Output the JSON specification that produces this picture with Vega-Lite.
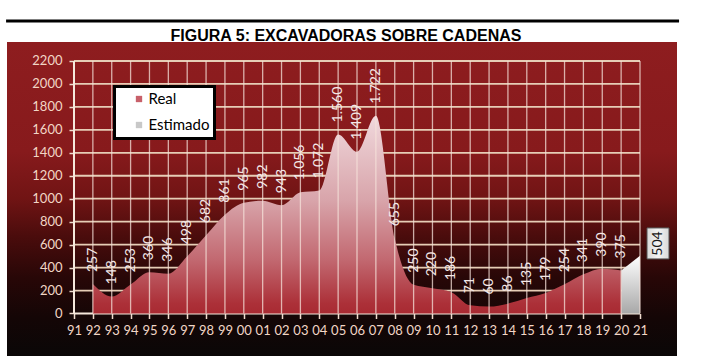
{
  "$schema": "https://vega.github.io/schema/vega-lite/v6.json",
  "width": 670,
  "height": 314,
  "autosize": {"type": "none"},
  "padding": {"left": 7, "top": 42, "right": 24, "bottom": 4},
  "background": "#ffffff",
  "view": {
    "stroke": null,
    "fill": {
      "gradient": "linear", "x1": 0, "y1": 0, "x2": 0, "y2": 1,
      "stops": [
        {"offset": 0, "color": "#8e1d1f"},
        {"offset": 0.35, "color": "#871a1c"},
        {"offset": 0.5, "color": "#701414"},
        {"offset": 0.62, "color": "#4a0c0c"},
        {"offset": 0.75, "color": "#280707"},
        {"offset": 0.88, "color": "#140606"},
        {"offset": 1, "color": "#0a0707"}
      ]
    }
  },
  "title": {
    "text": "FIGURA 5: EXCAVADORAS SOBRE CADENAS",
    "frame": "group",
    "anchor": "middle",
    "orient": "top",
    "baseline": "alphabetic",
    "offset": 3,
    "dy": 41,
    "dx": 4,
    "font": "Liberation Sans Narrow, Liberation Sans",
    "fontSize": 16,
    "fontWeight": "bold",
    "color": "#000000"
  },
  "datasets": {
    "series": [
      {"year": 1992, "v": 257, "serie": "Real"},
      {"year": 1993, "v": 148, "serie": "Real"},
      {"year": 1994, "v": 253, "serie": "Real"},
      {"year": 1995, "v": 360, "serie": "Real"},
      {"year": 1996, "v": 346, "serie": "Real"},
      {"year": 1997, "v": 498, "serie": "Real"},
      {"year": 1998, "v": 682, "serie": "Real"},
      {"year": 1999, "v": 861, "serie": "Real"},
      {"year": 2000, "v": 965, "serie": "Real"},
      {"year": 2001, "v": 982, "serie": "Real"},
      {"year": 2002, "v": 943, "serie": "Real"},
      {"year": 2003, "v": 1056, "serie": "Real"},
      {"year": 2004, "v": 1072, "serie": "Real"},
      {"year": 2005, "v": 1560, "serie": "Real"},
      {"year": 2006, "v": 1409, "serie": "Real"},
      {"year": 2007, "v": 1722, "serie": "Real"},
      {"year": 2008, "v": 655, "serie": "Real"},
      {"year": 2009, "v": 250, "serie": "Real"},
      {"year": 2010, "v": 220, "serie": "Real"},
      {"year": 2011, "v": 186, "serie": "Real"},
      {"year": 2012, "v": 71, "serie": "Real"},
      {"year": 2013, "v": 60, "serie": "Real"},
      {"year": 2014, "v": 86, "serie": "Real"},
      {"year": 2015, "v": 135, "serie": "Real"},
      {"year": 2016, "v": 179, "serie": "Real"},
      {"year": 2017, "v": 254, "serie": "Real"},
      {"year": 2018, "v": 341, "serie": "Real"},
      {"year": 2019, "v": 390, "serie": "Real"},
      {"year": 2020, "v": 375, "serie": "Real"},
      {"year": 2020, "v": 375, "serie": "Estimado"},
      {"year": 2021, "v": 504, "serie": "Estimado"}
    ],
    "levels": [
      {"level": 0}, {"level": 200}, {"level": 400}, {"level": 600}, {"level": 800},
      {"level": 1000}, {"level": 1200}, {"level": 1400}, {"level": 1600},
      {"level": 1800}, {"level": 2000}, {"level": 2200}
    ]
  },
  "layer": [
    {
      "data": {"name": "levels"},
      "mark": {"type": "rule"},
      "encoding": {
        "x": {"datum": 1991, "type": "quantitative",
              "scale": {"domain": [1987.449, 2022.961], "nice": false, "zero": false},
              "axis": {
                "title": null,
                "values": [1991,1992,1993,1994,1995,1996,1997,1998,1999,2000,2001,2002,2003,2004,2005,2006,2007,2008,2009,2010,2011,2012,2013,2014,2015,2016,2017,2018,2019,2020,2021],
                "tickCount": 60,
                "labelExpr": "substring(toString(datum.value), 2)",
                "offset": -42.5,
                "domain": false, "grid": false,
                "ticks": true, "tickSize": 5, "tickWidth": 1.5, "tickColor": "#f0dccf",
                "labelColor": "#f2d6c6", "labelFont": "Lato", "labelFontSize": 13,
                "labelPadding": 6, "labelFlush": false, "labelOverlap": false
              }},
        "x2": {"datum": 2021},
        "y": {"field": "level", "type": "quantitative",
              "scale": {"domain": [-370.3, 2365.5], "nice": false, "zero": false},
              "axis": {
                "title": null,
                "values": [0,200,400,600,800,1000,1200,1400,1600,1800,2000,2200],
                "tickCount": 30,
                "format": "d",
                "offset": -67,
                "domain": false, "grid": false,
                "ticks": true, "tickSize": 5, "tickWidth": 1.5, "tickColor": "#f0dccf",
                "labelColor": "#f2d6c6", "labelFont": "Lato", "labelFontSize": 13,
                "labelPadding": 7, "labelOverlap": false
              }},
        "color": {"condition": {"test": "datum.level == 0", "value": "#f6e8dc"}, "value": "#e6cdb6"},
        "strokeWidth": {"condition": {"test": "datum.level == 0", "value": 2}, "value": 1.8}
      }
    },
    {
      "data": {"name": "series"},
      "transform": [{"filter": "datum.serie == 'Real'"}],
      "mark": {
        "type": "area", "interpolate": "monotone",
        "fill": {
          "gradient": "linear", "x1": 0, "y1": 0, "x2": 0, "y2": 1,
          "stops": [
            {"offset": 0, "color": "#f0d8dc"},
            {"offset": 0.43, "color": "#d8a4aa"},
            {"offset": 0.73, "color": "#c26870"},
            {"offset": 0.95, "color": "#ac3038"},
            {"offset": 1, "color": "#a82a32"}
          ]
        }
      },
      "encoding": {
        "x": {"field": "year", "type": "quantitative"},
        "y": {"field": "v", "type": "quantitative"},
        "y2": {"datum": 0}
      }
    },
    {
      "data": {"name": "series"},
      "transform": [{"filter": "datum.serie == 'Estimado'"}],
      "mark": {
        "type": "area",
        "fill": {
          "gradient": "linear", "x1": 0, "y1": 0, "x2": 0, "y2": 1,
          "stops": [
            {"offset": 0, "color": "#ffffff"},
            {"offset": 1, "color": "#a8a8a8"}
          ]
        }
      },
      "encoding": {
        "x": {"field": "year", "type": "quantitative"},
        "y": {"field": "v", "type": "quantitative"},
        "y2": {"datum": 0}
      }
    },
    {
      "data": {"name": "series"},
      "transform": [{"filter": "datum.serie == 'Real' || datum.year == 2021"}],
      "mark": {"type": "rule", "color": "#f5e2da", "opacity": 0.75, "strokeWidth": 1.3},
      "encoding": {
        "x": {"field": "year", "type": "quantitative"},
        "y": {"datum": 0},
        "y2": {"datum": 2200}
      }
    },
    {
      "data": {"name": "levels"},
      "transform": [{"filter": "datum.level == 0"}],
      "mark": {"type": "rule", "color": "#f6e8dc", "strokeWidth": 2},
      "encoding": {
        "x": {"datum": 1991},
        "y": {"datum": 0},
        "y2": {"datum": 2200}
      }
    },
    {
      "data": {"name": "levels"},
      "transform": [{"filter": "datum.level == 0"}],
      "mark": {"type": "rule", "color": "#000000", "strokeWidth": 3},
      "encoding": {
        "x": {"datum": 1987.4},
        "x2": {"datum": 2023.07},
        "y": {"datum": 2548.5}
      }
    },
    {
      "data": {"name": "series"},
      "mark": {"type": "square", "opacity": 0},
      "encoding": {
        "x": {"field": "year", "type": "quantitative"},
        "y": {"field": "v", "type": "quantitative"},
        "fill": {
          "field": "serie", "type": "nominal",
          "scale": {"domain": ["Real", "Estimado"], "range": ["#c8606a", "#c8c8c8"]},
          "legend": {
            "title": null,
            "orient": "none",
            "legendX": 107.5,
            "legendY": 44.5,
            "fillColor": "#ffffff",
            "strokeColor": "#000000",
            "padding": 5,
            "symbolOffset": 12,
            "labelOffset": 2,
            "rowPadding": 10,
            "symbolSize": 40,
            "symbolType": "square",
            "symbolOpacity": 1,
            "symbolStrokeWidth": 0,
            "labelFont": "Lato",
            "labelFontSize": 15,
            "labelColor": "#000000",
            "encode": {
              "labels": {"update": {"text": {"signal": "datum.label + '\u00a0\u00a0\u00a0\u00a0\u00a0\u00a0\u00a0\u00a0'"}}},
              "legend": {"update": {"strokeWidth": {"value": 3}, "stroke": {"value": "#000000"}}}
            }
          }
        }
      }
    },
    {
      "data": {"name": "series"},
      "transform": [{"filter": "datum.serie == 'Real'"}],
      "mark": {"type": "text", "angle": -90, "align": "left", "baseline": "middle", "dx": 12,
               "font": "Lato", "fontSize": 14, "color": "#f4e8e8"},
      "encoding": {
        "x": {"field": "year", "type": "quantitative"},
        "y": {"field": "v", "type": "quantitative"},
        "text": {"field": "v", "type": "quantitative", "format": ",d"}
      }
    },
    {
      "data": {"name": "series"},
      "transform": [{"filter": "datum.serie == 'Estimado' && datum.year == 2021"}],
      "mark": {
        "type": "rect", "xOffset": 7, "x2Offset": 29, "yOffset": -27.7, "y2Offset": 3.3,
        "stroke": "#555555", "strokeWidth": 1,
        "fill": {
          "gradient": "linear", "x1": 0, "y1": 0, "x2": 1, "y2": 0,
          "stops": [
            {"offset": 0, "color": "#d8d8d8"},
            {"offset": 0.5, "color": "#f4f4f4"},
            {"offset": 1, "color": "#d8d8d8"}
          ]
        }
      },
      "encoding": {
        "x": {"field": "year", "type": "quantitative"},
        "x2": {"field": "year"},
        "y": {"field": "v", "type": "quantitative"},
        "y2": {"field": "v"}
      }
    },
    {
      "data": {"name": "series"},
      "transform": [{"filter": "datum.serie == 'Estimado' && datum.year == 2021"}],
      "mark": {"type": "text", "angle": -90, "align": "center", "baseline": "middle",
               "xOffset": 18, "yOffset": -12.2, "font": "Lato", "fontSize": 14, "color": "#1a1a1a"},
      "encoding": {
        "x": {"field": "year", "type": "quantitative"},
        "y": {"field": "v", "type": "quantitative"},
        "text": {"field": "v", "type": "quantitative", "format": ",d"}
      }
    }
  ],
  "config": {
    "locale": {"number": {"decimal": ",", "thousands": ".", "grouping": [3], "currency": ["", " €"]}},
    "legend": {"strokeWidth": 3},
    "axis": {"labelOverlap": false}
  }
}
